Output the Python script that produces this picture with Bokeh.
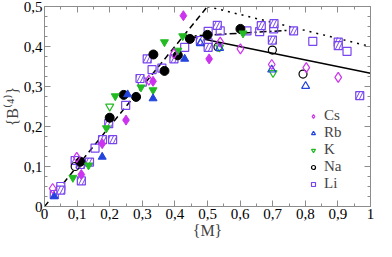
from bokeh.plotting import figure
from bokeh.models import FixedTicker, LinearAxis, Legend, LegendItem, Range1d
from bokeh.embed import file_html
from bokeh.resources import INLINE

# ---- data ----
cs_open_x = [0.025, 0.099, 0.32, 0.397, 0.539, 0.601, 0.697, 0.803, 0.901]
cs_open_y = [0.045, 0.123, 0.316, 0.382, 0.411, 0.394, 0.355, 0.347, 0.323]
cs_fill_x = [0.113, 0.177, 0.25, 0.333, 0.426, 0.505]
cs_fill_y = [0.080, 0.157, 0.216, 0.313, 0.477, 0.369]

rb_fill_x = [0.03, 0.177, 0.255, 0.333, 0.43]
rb_fill_y = [0.025, 0.124, 0.280, 0.270, 0.369]
rb_open_x = [0.478, 0.537, 0.697, 0.801]
rb_open_y = [0.408, 0.396, 0.342, 0.301]

k_fill_x = [0.087, 0.135, 0.19, 0.217, 0.296, 0.333, 0.368, 0.409, 0.424, 0.609]
k_fill_y = [0.072, 0.103, 0.196, 0.276, 0.298, 0.291, 0.411, 0.390, 0.426, 0.433]
k_open_x = [0.2, 0.537, 0.701]
k_open_y = [0.25, 0.398, 0.334]

na_fill_x = [0.11, 0.2, 0.243, 0.281, 0.334, 0.368, 0.409, 0.446, 0.5, 0.601]
na_fill_y = [0.112, 0.222, 0.279, 0.274, 0.380, 0.339, 0.378, 0.419, 0.429, 0.444]
na_open_x = [0.094, 0.532, 0.699, 0.793]
na_open_y = [0.100, 0.399, 0.391, 0.331]

li_open_x = [0.05, 0.155, 0.249, 0.3, 0.33, 0.36, 0.43, 0.502, 0.502, 0.539, 0.621, 0.66, 0.703, 0.823, 0.928]
li_open_y = [0.050, 0.146, 0.253, 0.311, 0.342, 0.346, 0.398, 0.438, 0.409, 0.439, 0.439, 0.437, 0.444, 0.413, 0.388]
li_hatch_x = [0.03, 0.05, 0.094, 0.11, 0.113, 0.138, 0.178, 0.209, 0.197, 0.293, 0.315, 0.397, 0.478,
              0.502, 0.53, 0.665, 0.704, 0.699, 0.764, 0.901, 0.901, 0.967]
li_hatch_y = [0.030, 0.041, 0.115, 0.105, 0.064, 0.111, 0.167, 0.167, 0.207, 0.320, 0.369, 0.369, 0.415,
              0.398, 0.453, 0.452, 0.457, 0.416, 0.439, 0.411, 0.402, 0.277]

dash_x = [0.0, 0.5]
dash_y = [0.0, 0.5]
dot_x = [0.5, 1.0]
dot_y = [0.5, 0.4]
solid_x = [0.43, 1.0]
solid_y = [0.428, 0.333]
dashdot_x = [0.43, 0.78]
dashdot_y = [0.425, 0.442]

x_ticks = [0, 0.1, 0.2, 0.3, 0.4, 0.5, 0.6, 0.7, 0.8, 0.9, 1.0]
x_tick_labels = ["0", "0,1", "0,2", "0,3", "0,4", "0,5", "0,6", "0,7", "0,8", "0,9", "1"]
y_ticks = [0, 0.1, 0.2, 0.3, 0.4, 0.5]
y_tick_labels = ["0", "0,1", "0,2", "0,3", "0,4", "0,5"]
legend_labels = ["Cs", "Rb", "K", "Na", "Li"]

C_CS = "#cc33ee"
C_RB = "#2244dd"
C_K = "#22bb22"
C_NA = "#000000"
C_LI = "#7744ee"

FONT = "Liberation Serif"
GRAY = "#8c8c8c"

p = figure(width=376, height=241, output_backend="svg", toolbar_location=None,
           x_range=Range1d(0, 1), y_range=Range1d(0, 0.5),
           min_border_left=40, min_border_right=6, min_border_top=6, min_border_bottom=30)
p.background_fill_color = "white"
p.border_fill_color = "white"
p.outline_line_color = GRAY
p.grid.visible = False

# lines
p.line(dash_x, dash_y, line_color="black", line_width=1.5, line_dash="6 4")
p.line(dot_x, dot_y, line_color="black", line_width=1.5, line_dash="2 5")
p.line(solid_x, solid_y, line_color="black", line_width=1.5)
p.line(dashdot_x, dashdot_y, line_color="black", line_width=1.5, line_dash="7 3 2 3")

S = 8
# Li
li_o = p.scatter(li_open_x, li_open_y, marker="square", size=S, fill_color=None, line_color=C_LI, line_width=1.2)
p.scatter(li_hatch_x, li_hatch_y, marker="square", size=S, fill_color="white", line_color=C_LI, line_width=1.2,
          hatch_pattern="/", hatch_color=C_LI, hatch_scale=7, hatch_weight=1.0)
# Na
na_o = p.scatter(na_open_x, na_open_y, marker="circle", size=S, fill_color=None, line_color=C_NA, line_width=1.2)
p.scatter(na_fill_x, na_fill_y, marker="circle", size=9, fill_color=C_NA, line_color=C_NA)
# K
k_o = p.scatter(k_open_x, k_open_y, marker="inverted_triangle", size=S, fill_color=None, line_color=C_K, line_width=1.2)
p.scatter(k_fill_x, k_fill_y, marker="inverted_triangle", size=S, fill_color=C_K, line_color=C_K)
# Rb
rb_o = p.scatter(rb_open_x, rb_open_y, marker="triangle", size=S, fill_color=None, line_color=C_RB, line_width=1.2)
p.scatter(rb_fill_x, rb_fill_y, marker="triangle", size=S, fill_color=C_RB, line_color=C_RB)
# Cs
cs_o = p.scatter(cs_open_x, cs_open_y, marker="diamond", size=10, fill_color=None, line_color=C_CS, line_width=1.2)
p.scatter(cs_fill_x, cs_fill_y, marker="diamond", size=10, fill_color=C_CS, line_color=C_CS)

# axes styling
def style_axis(ax, ticks, labels, show_labels, minor):
    ax.ticker = FixedTicker(ticks=ticks, minor_ticks=minor)
    ax.axis_line_color = GRAY
    ax.major_tick_line_color = GRAY
    ax.minor_tick_line_color = GRAY
    ax.major_tick_in = 6
    ax.major_tick_out = 0
    ax.minor_tick_in = 3
    ax.minor_tick_out = 0
    if show_labels:
        ax.major_label_overrides = {t: l for t, l in zip(ticks, labels)}
        ax.major_label_text_font = FONT
        ax.major_label_text_font_size = "15px"
        ax.major_label_text_color = "black"
        ax.major_label_standoff = 2
    else:
        ax.major_label_text_font_size = "0px"
        ax.major_label_text_alpha = 0

x_minor = [i / 20 for i in range(21)]
y_minor = [i / 40 for i in range(21)]

xa = p.xaxis[0]
ya = p.yaxis[0]
style_axis(xa, x_ticks, x_tick_labels, True, x_minor)
style_axis(ya, y_ticks, y_tick_labels, True, y_minor)
xa.axis_label = "{M}"
ya.axis_label = "{B⁽⁴⁾}"
for ax in (xa, ya):
    ax.axis_label_text_font = FONT
    ax.axis_label_text_font_size = "16px"
    ax.axis_label_text_font_style = "normal"
    ax.axis_label_standoff = 0

top = LinearAxis()
style_axis(top, x_ticks, x_tick_labels, False, x_minor)
right = LinearAxis()
style_axis(right, y_ticks, y_tick_labels, False, y_minor)
p.add_layout(top, "above")
p.add_layout(right, "right")

legend = Legend(items=[
    LegendItem(label=legend_labels[0], renderers=[cs_o]),
    LegendItem(label=legend_labels[1], renderers=[rb_o]),
    LegendItem(label=legend_labels[2], renderers=[k_o]),
    LegendItem(label=legend_labels[3], renderers=[na_o]),
    LegendItem(label=legend_labels[4], renderers=[li_o]),
], location=(262, 12))
legend.background_fill_alpha = 0
legend.border_line_alpha = 0
legend.label_text_font = FONT
legend.label_text_font_size = "15px"
legend.glyph_width = 10
legend.glyph_height = 12
legend.label_height = 12
legend.spacing = 0
legend.padding = 2
legend.label_standoff = 6
p.add_layout(legend, "center")

open("out.html", "w").write(file_html(p, INLINE))
